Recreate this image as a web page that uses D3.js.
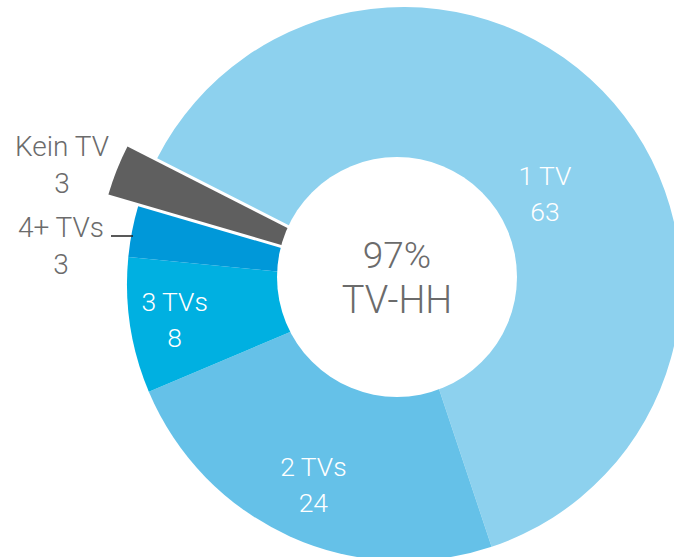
<!DOCTYPE html>
<html>
<head>
<meta charset="utf-8">
<script src="https://cdn.jsdelivr.net/npm/d3@7/dist/d3.min.js"></script>
<style>
  html, body { margin: 0; padding: 0; background: #fff; }
  svg { display: block; }
  text { font-family: Roboto, "Noto Sans", sans-serif; font-weight: 300; }
</style>
</head>
<body>
<div id="chart"></div>
<script>
// ---- data ----
const categories = ["1 TV", "2 TVs", "3 TVs", "4+ TVs", "Kein TV"];
const values = [63, 24, 8, 3, 3];
const colors = ["#8dd1ee", "#65c1e8", "#00b0e1", "#0098d9", "#5f5f5f"];
const centerLines = ["97%", "TV-HH"];

// ---- layout ----
const W = 674, H = 557;
const cx = 404, cy = 284, R = 277;
const holeCx = 397, holeCy = 277, holeR = 120;
const startDeg = -63;
const explodeIndex = 4, explodeDist = 32;

const svg = d3.select("#chart").append("svg").attr("width", W).attr("height", H);
const g = svg.append("g").attr("transform", `translate(${cx},${cy})`);

const pie = d3.pie().sort(null).value(d => d)
  .startAngle(startDeg * Math.PI / 180)
  .endAngle(startDeg * Math.PI / 180 + 2 * Math.PI);
const arcs = pie(values);
const arc = d3.arc().innerRadius(0).outerRadius(R);

g.selectAll("path.slice").data(arcs).join("path")
  .attr("class", "slice")
  .attr("d", arc)
  .attr("fill", (d, i) => colors[i])
  .attr("transform", (d, i) => {
    if (i !== explodeIndex) return null;
    const a = (d.startAngle + d.endAngle) / 2;
    return `translate(${Math.sin(a) * explodeDist},${-Math.cos(a) * explodeDist})`;
  });

// hole
svg.append("circle").attr("cx", holeCx).attr("cy", holeCy).attr("r", holeR).attr("fill", "#fff");

// center text
svg.append("text").attr("x", holeCx).attr("y", 268).attr("text-anchor", "middle")
  .attr("font-size", 37).attr("fill", "#6b6b6b").text(centerLines[0]);
svg.append("text").attr("x", holeCx).attr("y", 313).attr("text-anchor", "middle")
  .attr("font-size", 38).attr("fill", "#6b6b6b").text(centerLines[1]);

// inside labels (polar placement relative to pie center)
const inside = [
  { i: 0, angleDeg: 57, r: 168 },
  { i: 1, angleDeg: null, r: 220 },
  { i: 2, angleDeg: null, r: 232 }
];
inside.forEach(o => {
  const d = arcs[o.i];
  const a = o.angleDeg !== null ? o.angleDeg * Math.PI / 180 : (d.startAngle + d.endAngle) / 2;
  const x = cx + Math.sin(a) * o.r, y = cy - Math.cos(a) * o.r;
  const t = svg.append("text").attr("text-anchor", "middle").attr("font-size", 26.5).attr("fill", "#fff");
  t.append("tspan").attr("x", x).attr("y", y - 8).text(categories[o.i]);
  t.append("tspan").attr("x", x).attr("y", y + 28).text(values[o.i]);
});

// outside labels
const outside = [
  { i: 4, x: 62, y: 156 },
  { i: 3, x: 61, y: 237 }
];
outside.forEach(o => {
  const t = svg.append("text").attr("text-anchor", "middle").attr("font-size", 28).attr("fill", "#6b6b6b");
  t.append("tspan").attr("x", o.x).attr("y", o.y).text(categories[o.i]);
  t.append("tspan").attr("x", o.x).attr("y", o.y + 37).text(values[o.i]);
});

// leader line for 4+ TVs
svg.append("line").attr("x1", 111).attr("x2", 133).attr("y1", 236).attr("y2", 236)
  .attr("stroke", "#222").attr("stroke-width", 1.5);
</script>
</body>
</html>
